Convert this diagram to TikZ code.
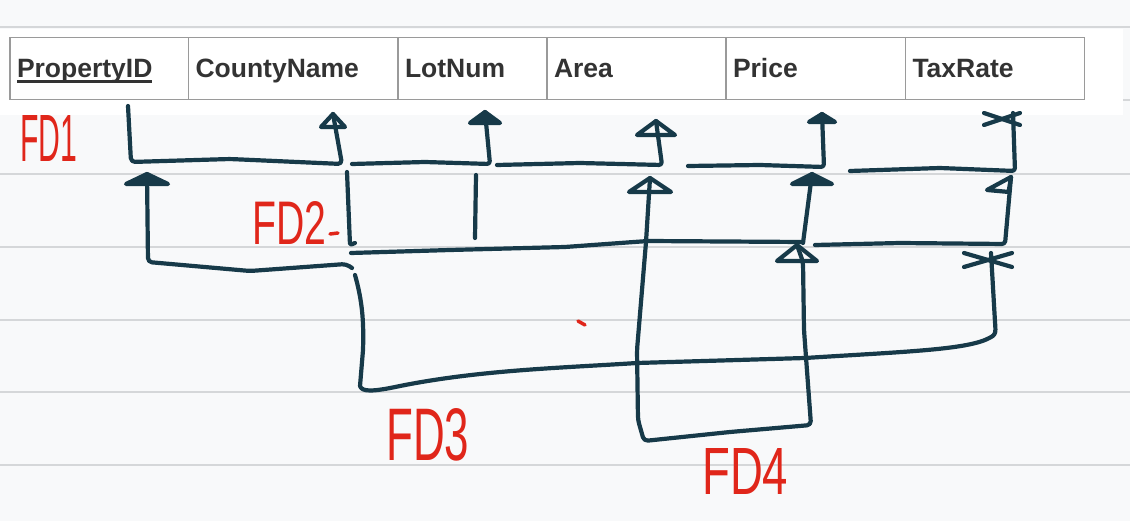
\documentclass[tikz,border=0pt]{standalone}
\usepackage{fontspec}
\setmainfont{Liberation Sans}
\definecolor{inkc}{HTML}{173A49}
\definecolor{penc}{HTML}{E0261A}
\definecolor{paperc}{HTML}{F8F9FA}
\definecolor{rulec}{HTML}{D5D7D9}
\definecolor{gridc}{HTML}{9A9A9A}
\definecolor{txtc}{HTML}{333333}
\newcommand\keyul[1]{\setbox0=\hbox{#1}\rlap{\rule[-4.7pt]{\wd0}{2.4pt}}\box0}
\tikzset{
  inkline/.style={draw=inkc, line width=4.2pt, line cap=round, line join=round},
  penline/.style={draw=penc, line width=3.5pt, line cap=round},
  cell/.style={draw=gridc, line width=1.5pt, fill=white, minimum height=61.6pt,
    inner xsep=7pt, inner ysep=0pt, text height=19pt, text depth=0pt, align=left,
    font=\fontsize{26.5}{30}\selectfont\bfseries, text=txtc},
  fdlabel/.style={text=penc, inner sep=0pt, anchor=north west},
  otri/.pic={\draw[inkline] (0,0) -- (-1,1) -- (1,1) -- cycle;},
  ftri/.pic={\filldraw[inkline, fill=inkc] (0,0) -- (-1,1) -- (1,1) -- cycle;},
  flagtri/.pic={\draw[inkline] (0,0) -- (-1,1) -- (-0.1,1.15) -- cycle;},
  xhead/.pic={\draw[inkline] (-1,-1) -- (1,1); \draw[inkline] (-1,1) -- (1,-1);}
}
\begin{document}
\begin{tikzpicture}[x=1pt,y=-1pt]
\useasboundingbox (0,0) rectangle (1130,521);
\fill[paperc] (0,0) rectangle (1130,521);
\foreach \yy in {27,100,174,247,320,392,465} {\draw[rulec, line width=1.8pt] (0,\yy) -- (1130,\yy);}
\fill[white] (0,29.5) rectangle (1123,115);

% table
\node[cell, text width=164.5pt] (pid) at (99.25,68.5) {\keyul{PropertyID}};
\node[cell, text width=195.5pt] (cty) at (293.25,68.5) {CountyName};
\node[cell, text width=135pt] (lot) at (472.5,68.5) {LotNum};
\node[cell, text width=165pt] (area) at (636.5,68.5) {Area};
\node[cell, text width=165.5pt] (price) at (815.75,68.5) {Price};
\node[cell, text width=165.1pt] (tax) at (995.05,68.5) {TaxRate};

% arrow head points
\coordinate (h1cn) at (333,114);
\coordinate (h1ln) at (485,112);
\coordinate (h1ar) at (656,121);
\coordinate (h1pr) at (822,114);
\coordinate (h1tx) at (1013,113);
\coordinate (h2pid) at (147,174);
\coordinate (h2ar) at (650,178);
\coordinate (h2pr) at (812,174);
\coordinate (h2tx) at (1011,177);
\coordinate (h4pr) at (797,245);
\coordinate (h3tx) at (991,253);
\coordinate (ar2) at (646,242);

% FD1
\draw[inkline, rounded corners=4pt] (128,106) -- (131,162) -- (230,159) -- (342,164) -- (h1cn);
\draw[inkline, rounded corners=3pt] (352,164) -- (425,162) -- (490,164) -- (h1ln);
\draw[inkline, rounded corners=3pt] (497,165) -- (580,163) -- (662,165) -- (h1ar);
\draw[inkline, rounded corners=3pt] (688,166) -- (760,165) -- (824,167) -- (h1pr);
\draw[inkline, rounded corners=3pt] (850,171) -- (940,168) -- (1015,171) -- (h1tx);
\pic[xscale=12, yscale=13] at (h1cn) {otri};
\pic[xscale=15, yscale=11] at (h1ln) {ftri};
\pic[xscale=19, yscale=14] at (h1ar) {otri};
\pic[xscale=13, yscale=8] at (h1pr) {ftri};
\pic[xscale=18, yscale=6] at (1002,119) {xhead};

% FD2
\draw[inkline, rounded corners=4pt] (h2pid) -- (148,262) -- (250,271) -- (346,264) -- (352,268);
\draw[inkline, rounded corners=2pt] (347,172) -- (350,245) -- (355,243);
\draw[inkline] (476,175) -- (475,238);
\draw[inkline, rounded corners=3pt] (351,253) -- (450,250) -- (565,247) -- (648,241) -- (803,242);
\draw[inkline] (ar2) -- (h2ar);
\draw[inkline] (803,243) -- (h2pr);
\draw[inkline, rounded corners=3pt] (815,245) -- (900,243) -- (1005,244) -- (h2tx);
\pic[xscale=21, yscale=10] at (h2pid) {ftri};
\pic[xscale=21, yscale=14] at (h2ar) {otri};
\pic[xscale=20, yscale=10] at (h2pr) {ftri};
\pic[xscale=24, yscale=13] at (h2tx) {flagtri};

% FD4
\draw[inkline, rounded corners=4pt] (ar2) -- (637,350) -- (638,420) -- (644,441) -- (730,432) -- (811,425) -- (804,330) -- (803,262) -- (h4pr);
\pic[xscale=20, yscale=16] at (h4pr) {otri};

% FD3
\draw[inkline] (355,275) .. controls (362,300) and (364,320) .. (363,350) -- (360,386)
  .. controls (362,392) and (372,392) .. (400,386)
  .. controls (480,370) and (560,368) .. (637,363) -- (805,358)
  .. controls (900,352) and (960,350) .. (985,340)
  .. controls (996,335) .. (995,322) -- (h3tx);
\pic[xscale=24, yscale=7] at (988,260) {xhead};

% labels
\node[fdlabel] (fd1) at (20,115) {\resizebox{57pt}{46pt}{FD1}};
\node[fdlabel] (fd2) at (252,201) {\resizebox{74pt}{43pt}{FD2}};
\node[fdlabel] (fd3) at (386,408) {\resizebox{83pt}{52pt}{FD3}};
\node[fdlabel] (fd4) at (702,448) {\resizebox{86pt}{46pt}{FD4}};
\draw[penline] (330,234) -- (338,233);
\draw[penline] (578,321) -- (585,325);
\end{tikzpicture}
\end{document}
